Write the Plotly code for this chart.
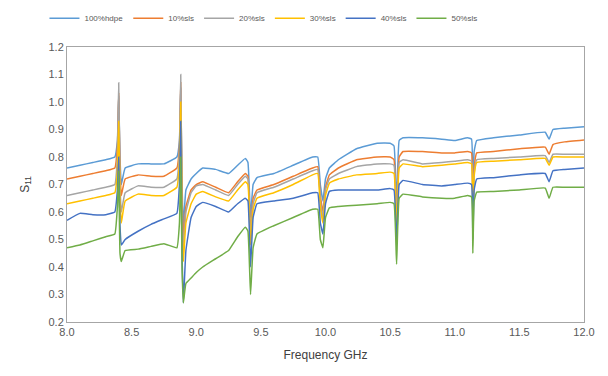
import plotly.graph_objects as go

freq = [8.00, 8.10, 8.20, 8.30, 8.37, 8.39, 8.40, 8.41, 8.42, 8.45, 8.55, 8.65, 8.75, 8.85, 8.87, 8.88, 8.89, 8.90, 8.92, 8.96,
        9.00, 9.05, 9.15, 9.25, 9.32, 9.38, 9.40, 9.42, 9.44, 9.47, 9.60, 9.75, 9.90, 9.94, 9.96, 9.98,
        10.00, 10.03, 10.10, 10.24, 10.40, 10.50, 10.53, 10.55, 10.57, 10.60, 10.75, 10.90,
        11.00, 11.10, 11.13, 11.14, 11.15, 11.17, 11.30, 11.50, 11.70, 11.73, 11.76, 11.85, 12.00]

hdpe100 = [0.76, 0.77, 0.78, 0.79, 0.80, 0.86, 1.02, 0.80, 0.70, 0.76, 0.775, 0.775, 0.775, 0.80, 0.86, 1.05, 0.70, 0.55, 0.68, 0.72,
           0.74, 0.76, 0.755, 0.74, 0.77, 0.795, 0.78, 0.58, 0.70, 0.725, 0.74, 0.77, 0.80, 0.80, 0.70, 0.64,
           0.72, 0.76, 0.79, 0.83, 0.85, 0.85, 0.84, 0.62, 0.86, 0.87, 0.87, 0.865,
           0.86, 0.87, 0.865, 0.64, 0.82, 0.86, 0.87, 0.88, 0.89, 0.865, 0.90, 0.905, 0.91]

sls10 = [0.72, 0.73, 0.74, 0.75, 0.76, 0.84, 1.03, 0.76, 0.66, 0.72, 0.735, 0.73, 0.73, 0.76, 0.84, 1.07, 0.66, 0.50, 0.62, 0.68,
         0.70, 0.71, 0.69, 0.67, 0.71, 0.74, 0.73, 0.52, 0.65, 0.68, 0.70, 0.73, 0.76, 0.765, 0.66, 0.60,
         0.69, 0.735, 0.76, 0.79, 0.80, 0.80, 0.79, 0.58, 0.80, 0.82, 0.82, 0.815,
         0.815, 0.82, 0.815, 0.60, 0.76, 0.815, 0.82, 0.83, 0.836, 0.81, 0.845, 0.855, 0.862]

sls20 = [0.66, 0.67, 0.68, 0.69, 0.70, 0.80, 1.07, 0.70, 0.60, 0.67, 0.695, 0.69, 0.69, 0.72, 0.82, 1.10, 0.62, 0.46, 0.60, 0.67,
         0.695, 0.70, 0.68, 0.66, 0.70, 0.73, 0.72, 0.50, 0.63, 0.67, 0.69, 0.72, 0.75, 0.755, 0.64, 0.58,
         0.68, 0.72, 0.74, 0.765, 0.775, 0.775, 0.77, 0.56, 0.78, 0.79, 0.775, 0.78,
         0.785, 0.79, 0.785, 0.58, 0.74, 0.79, 0.795, 0.80, 0.805, 0.78, 0.81, 0.81, 0.81]

sls30 = [0.63, 0.64, 0.65, 0.66, 0.67, 0.75, 0.93, 0.66, 0.56, 0.64, 0.665, 0.66, 0.66, 0.69, 0.78, 1.00, 0.58, 0.42, 0.56, 0.63,
         0.665, 0.675, 0.655, 0.64, 0.68, 0.71, 0.70, 0.48, 0.61, 0.65, 0.67, 0.70, 0.735, 0.74, 0.62, 0.56,
         0.66, 0.705, 0.72, 0.735, 0.74, 0.745, 0.74, 0.54, 0.76, 0.775, 0.765, 0.77,
         0.775, 0.78, 0.775, 0.56, 0.73, 0.78, 0.785, 0.79, 0.795, 0.77, 0.80, 0.80, 0.80]

sls40 = [0.57, 0.595, 0.59, 0.59, 0.60, 0.68, 0.80, 0.55, 0.48, 0.50, 0.53, 0.555, 0.575, 0.595, 0.70, 0.93, 0.45, 0.27, 0.46, 0.58,
         0.62, 0.635, 0.62, 0.60, 0.63, 0.65, 0.64, 0.40, 0.58, 0.63, 0.64, 0.65, 0.67, 0.67, 0.56, 0.52,
         0.63, 0.675, 0.68, 0.68, 0.68, 0.685, 0.68, 0.48, 0.70, 0.715, 0.70, 0.695,
         0.70, 0.705, 0.70, 0.50, 0.68, 0.72, 0.725, 0.735, 0.74, 0.71, 0.75, 0.755, 0.76]

sls50 = [0.47, 0.48, 0.495, 0.51, 0.52, 0.62, 0.75, 0.45, 0.42, 0.46, 0.465, 0.475, 0.485, 0.47, 0.56, 0.80, 0.40, 0.27, 0.34, 0.36,
         0.38, 0.40, 0.43, 0.46, 0.51, 0.545, 0.53, 0.30, 0.47, 0.52, 0.55, 0.58, 0.61, 0.61, 0.50, 0.47,
         0.58, 0.615, 0.62, 0.625, 0.63, 0.635, 0.63, 0.41, 0.65, 0.665, 0.655, 0.65,
         0.65, 0.66, 0.655, 0.45, 0.64, 0.672, 0.675, 0.68, 0.687, 0.65, 0.69, 0.69, 0.69]

series_names = ["100%hdpe", "10%sls", "20%sls", "30%sls", "40%sls", "50%sls"]
series_values = [hdpe100, sls10, sls20, sls30, sls40, sls50]
colors = ["#5B9BD5", "#ED7D31", "#A5A5A5", "#FFC000", "#4472C4", "#70AD47"]

x_ticks = [8.0, 8.5, 9.0, 9.5, 10.0, 10.5, 11.0, 11.5, 12.0]
y_ticks = [0.2, 0.3, 0.4, 0.5, 0.6, 0.7, 0.8, 0.9, 1.0, 1.1, 1.2]

fig = go.Figure()
for name, vals, col in zip(series_names, series_values, colors):
    fig.add_trace(go.Scatter(x=freq, y=vals, mode="lines", name=name,
                             line=dict(color=col, width=1.5, shape="spline", smoothing=0.3)))

font_family = "Liberation Sans, Arial, sans-serif"
# page body has an 8px default margin, so the figure is sized to the remaining window
fig.update_layout(
    width=600, height=368,
    margin=dict(l=59, r=24, t=39, b=54, autoexpand=False),
    paper_bgcolor="white", plot_bgcolor="white",
    font=dict(family=font_family, color="#595959", size=11),
    showlegend=True,
    legend=dict(orientation="h", x=0.38, xanchor="center", y=1.105, yanchor="middle",
                font=dict(size=8, color="#595959"), itemwidth=30, bgcolor="rgba(0,0,0,0)"),
    xaxis=dict(range=[8.0, 12.0], tickvals=x_ticks, ticktext=[f"{v:.1f}" for v in x_ticks],
               showgrid=False, zeroline=False, showline=True, mirror=True,
               linecolor="#A6A6A6", linewidth=1, ticks="", automargin=False,
               title=dict(text="Frequency GHz", font=dict(size=12, color="#404040"), standoff=13)),
    yaxis=dict(range=[0.2, 1.2], tickvals=y_ticks, ticktext=[f"{v:.1f}" for v in y_ticks],
               showgrid=False, zeroline=False, showline=True, mirror=True,
               linecolor="#A6A6A6", linewidth=1, ticks="", automargin=False,
               title=dict(text="S<sub>11</sub>", font=dict(size=12, color="#404040"), standoff=16)),
)

fig.write_html("out.html")
